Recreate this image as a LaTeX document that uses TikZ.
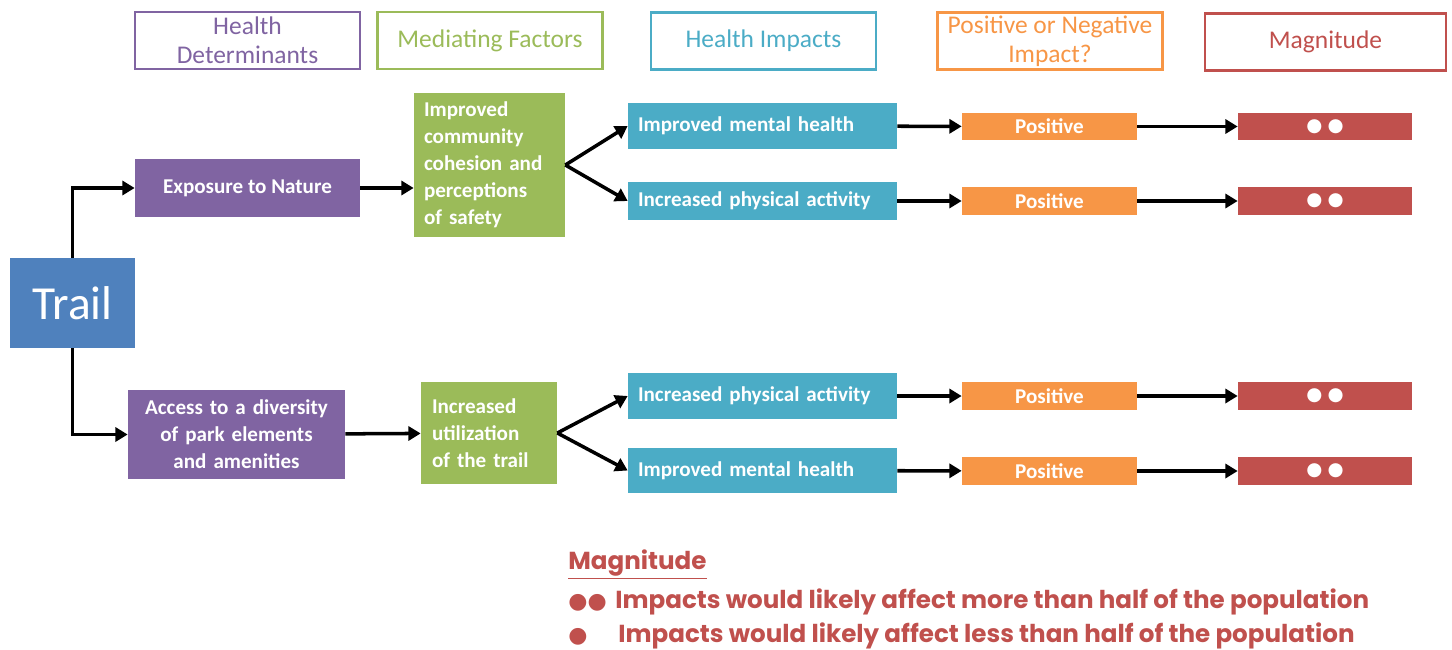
\documentclass[tikz,border=0pt]{standalone}
\usepackage{fontspec}
\setmainfont{Carlito}
\newfontfamily\legendfont{Poppins}
\newfontfamily\dotfont{DejaVu Sans}
\usetikzlibrary{arrows.meta}
\definecolor{detpurple}{HTML}{8064A2}
\definecolor{medgreen}{HTML}{9BBB59}
\definecolor{impcyan}{HTML}{4BACC6}
\definecolor{posorange}{HTML}{F79646}
\definecolor{magred}{HTML}{C0504D}
\definecolor{trailblue}{HTML}{4F81BD}
\begin{document}
\begin{tikzpicture}[x=0.02cm,y=-0.02cm,
  head/.style={draw=#1,line width=1.6pt,text=#1,font=\fontsize{14.5}{16.5}\selectfont,align=center,minimum width=4.5cm,minimum height=1.14cm,inner sep=0pt},
  box/.style={fill=#1,text=white,font=\bfseries\fontsize{12}{15.3}\selectfont,inner sep=0pt},
  impact/.style={box=impcyan,minimum width=5.38cm,text width=4.98cm,inner xsep=0.2cm,align=left},
  sign/.style={box=posorange,minimum width=3.5cm,minimum height=0.56cm},
  mag/.style={box=magred,minimum width=3.48cm,minimum height=0.56cm,font=\dotfont\fontsize{10.5}{12}\selectfont},
  legend/.style={text=magred,font=\legendfont\bfseries\fontsize{14}{16}\selectfont,inner sep=0pt,anchor=base west},
  conn/.style={line width=2pt,-{Triangle[length=7pt,width=8pt]}}]
\useasboundingbox (0,0) rectangle (1452,649);

\node[head=detpurple] (hd) at (247.5,40.5) {Health\\Determinants};
\node[head=medgreen] (hm) at (490,40.5) {Mediating Factors};
\node[head=impcyan] (hh) at (763.5,41) {Health Impacts};
\node[head=posorange] (hp) at (1050,41) {Positive or Negative\\Impact?};
\node[head=magred,minimum width=4.82cm] (hg) at (1325.5,42) {Magnitude};

\node[fill=trailblue,text=white,font=\fontsize{27}{32}\selectfont,minimum width=2.5cm,minimum height=1.8cm,inner sep=0pt] (trail) at (72.5,303) {Trail};

\node[box=detpurple,minimum width=4.5cm,minimum height=1.16cm] (nature) at (247.5,188) {Exposure to Nature};
\node[box=medgreen,minimum height=2.88cm,text width=2.62cm,inner xsep=0.2cm,align=left] (cohesion) at (489.5,165) {Improved\\community\\cohesion and\\perceptions\\of safety};
\node[impact,minimum height=0.92cm] (mental1) at (762.5,126) {Improved mental health};
\node[impact,minimum height=0.76cm] (active1) at (762.5,201) {Increased physical activity};
\node[sign] (pos1) at (1049.5,126.5) {Positive};
\node[sign] (pos2) at (1049.5,201) {Positive};
\node[mag] (mag1) at (1325,126.5) {●\hspace{3pt}●};
\node[mag] (mag2) at (1325,201) {●\hspace{3pt}●};

\node[box=detpurple,minimum width=4.34cm,minimum height=1.78cm,text width=4.0cm,align=center] (access) at (236.5,434.5) {Access to a diversity\\of park elements\\and amenities};
\node[box=medgreen,minimum height=2.04cm,text width=2.28cm,inner xsep=0.22cm,align=left] (use) at (489,433) {Increased\\utilization\\of the trail};
\node[impact,minimum height=0.92cm] (active2) at (762.5,396) {Increased physical activity};
\node[impact,minimum height=0.9cm] (mental2) at (762.5,470.5) {Improved mental health};
\node[sign] (pos3) at (1049.5,396) {Positive};
\node[sign] (pos4) at (1049.5,471) {Positive};
\node[mag] (mag3) at (1325,396) {●\hspace{3pt}●};
\node[mag] (mag4) at (1325,471) {●\hspace{3pt}●};

\draw[conn] (trail.north) |- (nature.west);
\draw[conn] (trail.south) |- (access.west);
\draw[conn] (nature.east) -- (nature.east -| cohesion.west);
\draw[conn] (access) -- (use);
\draw[conn] (cohesion.east) -- (mental1.west);
\draw[conn] (cohesion.east) -- (active1.west);
\draw[conn] (use.east) -- (active2.west);
\draw[conn] (use.east) -- (mental2.west);
\draw[conn] (mental1) -- (pos1);
\draw[conn] (active1) -- (pos2);
\draw[conn] (active2) -- (pos3);
\draw[conn] (mental2) -- (pos4);
\draw[conn] (pos1) -- (mag1);
\draw[conn] (pos2) -- (mag2);
\draw[conn] (pos3) -- (mag3);
\draw[conn] (pos4) -- (mag4);

\node[legend] (lgtitle) at (568,569) {\underline{Magnitude}};
\node[legend,font=\dotfont\fontsize{12.5}{15}\selectfont] (lgdots2) at (568,608) {●●};
\node[legend] (lgmore) at (615,608) {Impacts would likely affect more than half of the population};
\node[legend,font=\dotfont\fontsize{12.5}{15}\selectfont] (lgdots1) at (568,642) {●};
\node[legend] (lgless) at (618,642) {Impacts would likely affect less than half of the population};
\end{tikzpicture}
\end{document}
